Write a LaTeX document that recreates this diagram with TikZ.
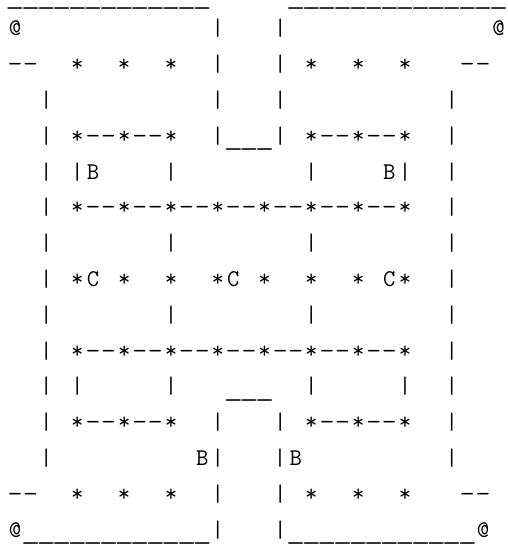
\documentclass[tikz,border=0pt]{standalone}
\usepackage{graphicx}
\newlength\cellw
\setlength\cellw{15.6pt}
\newcommand\artrow[1]{\artrowi#1\relax}
\def\artcell#1{\ifx#1-\scalebox{1.2}[1]{-}\else\ifx#1\_\raisebox{-2.5pt}{\scalebox{1.55}[1]{\_}}\else#1\fi\fi}
\def\artrowi#1{\ifx#1\relax\else\makebox[\cellw]{\artcell{#1}}\expandafter\artrowi\fi}
\tikzset{
  artline/.style={anchor=base west, inner sep=0pt, outer sep=0pt,
    font=\ttfamily\fontsize{24}{24}\selectfont, text=black}
}
\begin{document}
\begin{tikzpicture}[x=1pt,y=-1pt]
\useasboundingbox (0,0) rectangle (508,547);
\fill[white] (0,0) rectangle (508,547);
\node[artline] (r0)  at (7.2,1.5)   {\artrow{\_\_\_\_\_\_\_\_\_\_\_\_\_~~~~~\_\_\_\_\_\_\_\_\_\_\_\_\_\_}};
\node[artline] (r1)  at (7.2,35.8)  {\artrow{@~~~~~~~~~~~~|~~~|~~~~~~~~~~~~~@}};
\node[artline] (r2)  at (7.2,71.6)  {\artrow{--~~*~~*~~*~~|~~~|~*~~*~~*~~~--}};
\node[artline] (r3)  at (7.2,107.4) {\artrow{~~|~~~~~~~~~~|~~~|~~~~~~~~~~|}};
\node[artline] (r4)  at (7.2,143.2) {\artrow{~~|~*--*--*~~|\_\_\_|~*--*--*~~|}};
\node[artline] (r5)  at (7.2,179.0) {\artrow{~~|~|B~~~~|~~~~~~~~|~~~~B|~~|}};
\node[artline] (r6)  at (7.2,214.8) {\artrow{~~|~*--*--*--*--*--*--*--*~~|}};
\node[artline] (r7)  at (7.2,250.6) {\artrow{~~|~~~~~~~|~~~~~~~~|~~~~~~~~|}};
\node[artline] (r8)  at (7.2,286.4) {\artrow{~~|~*C~*~~*~~*C~*~~*~~*~C*~~|}};
\node[artline] (r9)  at (7.2,322.2) {\artrow{~~|~~~~~~~|~~~~~~~~|~~~~~~~~|}};
\node[artline] (r10) at (7.2,358.0) {\artrow{~~|~*--*--*--*--*--*--*--*~~|}};
\node[artline] (r11) at (7.2,393.8) {\artrow{~~|~|~~~~~|~~~\_\_\_~~|~~~~~|~~|}};
\node[artline] (r12) at (7.2,429.6) {\artrow{~~|~*--*--*~~|~~~|~*--*--*~~|}};
\node[artline] (r13) at (7.2,465.4) {\artrow{~~|~~~~~~~~~B|~~~|B~~~~~~~~~|}};
\node[artline] (r14) at (7.2,501.2) {\artrow{--~~*~~*~~*~~|~~~|~*~~*~~*~~~--}};
\node[artline] (r15) at (7.2,537.0) {\artrow{@\_\_\_\_\_\_\_\_\_\_\_\_|~~~|\_\_\_\_\_\_\_\_\_\_\_\_@}};
\end{tikzpicture}
\end{document}
